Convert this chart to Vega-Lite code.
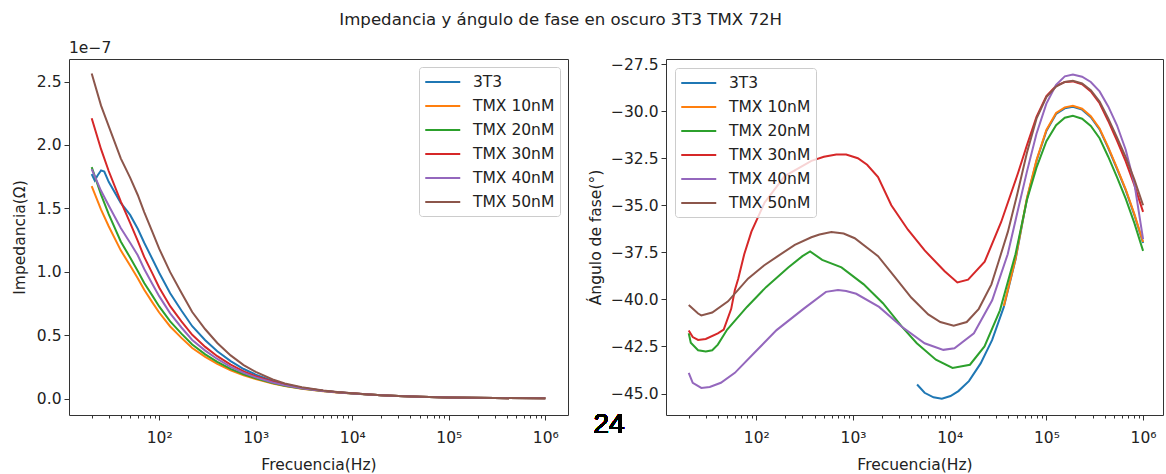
{
"$schema": "https://vega.github.io/schema/vega-lite/v6.json",
"padding": {"left": 11, "top": 11, "right": 0, "bottom": 0},
"title": {"text": "Impedancia y ángulo de fase en oscuro 3T3 TMX 72H", "fontSize": 16.6, "font": "DejaVu Sans", "fontWeight": "normal", "color": "#222", "anchor": "middle", "offset": 11.5, "dx": -27},
"config": {
  "view": {"stroke": "#333", "strokeWidth": 1},
  "axis": {"labelFont": "DejaVu Sans", "titleFont": "DejaVu Sans", "labelFontSize": 15.5, "titleFontSize": 15.5, "titleFontWeight": "normal", "labelColor": "#222", "titleColor": "#222", "tickColor": "#333", "grid": false, "domain": false, "tickSize": 5, "labelPadding": 3},
  "legend": {"labelFont": "DejaVu Sans", "labelFontSize": 15.5, "labelColor": "#222", "symbolType": "M-1,0H3", "symbolStrokeWidth": 2, "symbolSize": 306, "rowPadding": 5, "padding": 5, "strokeColor": "#cccccc", "fillColor": "rgba(255,255,255,0.8)", "cornerRadius": 3, "labelOffset": 29},
  "line": {"strokeWidth": 2}
},
"datasets": {
"imp": [
{"s":"3T3","f":20,"z":1.77},{"s":"3T3","f":21.5,"z":1.72},{"s":"3T3","f":23,"z":1.76},{"s":"3T3","f":25,"z":1.80},{"s":"3T3","f":27,"z":1.79},{"s":"3T3","f":30,"z":1.71},{"s":"3T3","f":40,"z":1.544},{"s":"3T3","f":50,"z":1.449},{"s":"3T3","f":60,"z":1.34},{"s":"3T3","f":70,"z":1.23},{"s":"3T3","f":85,"z":1.102},{"s":"3T3","f":100,"z":0.993},{"s":"3T3","f":130,"z":0.832},{"s":"3T3","f":170,"z":0.696},{"s":"3T3","f":220,"z":0.572},{"s":"3T3","f":300,"z":0.462},{"s":"3T3","f":400,"z":0.374},{"s":"3T3","f":550,"z":0.297},{"s":"3T3","f":750,"z":0.235},{"s":"3T3","f":1000,"z":0.191},{"s":"3T3","f":1500,"z":0.14},{"s":"3T3","f":2000,"z":0.114},{"s":"3T3","f":3000,"z":0.088},{"s":"3T3","f":5000,"z":0.064},{"s":"3T3","f":7000,"z":0.052},{"s":"3T3","f":10000,"z":0.043},{"s":"3T3","f":15000,"z":0.034},{"s":"3T3","f":20000,"z":0.029},{"s":"3T3","f":30000,"z":0.023},{"s":"3T3","f":50000,"z":0.017},{"s":"3T3","f":100000,"z":0.011},{"s":"3T3","f":300000,"z":0.006},{"s":"3T3","f":1000000,"z":0.004},
{"s":"TMX 10nM","f":20,"z":1.675},{"s":"TMX 10nM","f":25,"z":1.49},{"s":"TMX 10nM","f":30,"z":1.36},{"s":"TMX 10nM","f":40,"z":1.17},{"s":"TMX 10nM","f":50,"z":1.05},{"s":"TMX 10nM","f":60,"z":0.95},{"s":"TMX 10nM","f":70,"z":0.86},{"s":"TMX 10nM","f":85,"z":0.76},{"s":"TMX 10nM","f":100,"z":0.68},{"s":"TMX 10nM","f":130,"z":0.57},{"s":"TMX 10nM","f":170,"z":0.48},{"s":"TMX 10nM","f":220,"z":0.40},{"s":"TMX 10nM","f":300,"z":0.33},{"s":"TMX 10nM","f":400,"z":0.275},{"s":"TMX 10nM","f":550,"z":0.225},{"s":"TMX 10nM","f":750,"z":0.185},{"s":"TMX 10nM","f":1000,"z":0.155},{"s":"TMX 10nM","f":1500,"z":0.12},{"s":"TMX 10nM","f":2000,"z":0.10},{"s":"TMX 10nM","f":3000,"z":0.08},{"s":"TMX 10nM","f":5000,"z":0.06},{"s":"TMX 10nM","f":7000,"z":0.05},{"s":"TMX 10nM","f":10000,"z":0.042},{"s":"TMX 10nM","f":15000,"z":0.034},{"s":"TMX 10nM","f":20000,"z":0.029},{"s":"TMX 10nM","f":30000,"z":0.023},{"s":"TMX 10nM","f":50000,"z":0.017},{"s":"TMX 10nM","f":100000,"z":0.011},{"s":"TMX 10nM","f":300000,"z":0.006},{"s":"TMX 10nM","f":1000000,"z":0.004},
{"s":"TMX 20nM","f":20,"z":1.826},{"s":"TMX 20nM","f":25,"z":1.609},{"s":"TMX 20nM","f":30,"z":1.455},{"s":"TMX 20nM","f":40,"z":1.24},{"s":"TMX 20nM","f":50,"z":1.113},{"s":"TMX 20nM","f":60,"z":1.007},{"s":"TMX 20nM","f":70,"z":0.912},{"s":"TMX 20nM","f":85,"z":0.813},{"s":"TMX 20nM","f":100,"z":0.728},{"s":"TMX 20nM","f":130,"z":0.61},{"s":"TMX 20nM","f":170,"z":0.514},{"s":"TMX 20nM","f":220,"z":0.428},{"s":"TMX 20nM","f":300,"z":0.35},{"s":"TMX 20nM","f":400,"z":0.292},{"s":"TMX 20nM","f":550,"z":0.236},{"s":"TMX 20nM","f":750,"z":0.194},{"s":"TMX 20nM","f":1000,"z":0.161},{"s":"TMX 20nM","f":1500,"z":0.124},{"s":"TMX 20nM","f":2000,"z":0.103},{"s":"TMX 20nM","f":3000,"z":0.082},{"s":"TMX 20nM","f":5000,"z":0.061},{"s":"TMX 20nM","f":7000,"z":0.051},{"s":"TMX 20nM","f":10000,"z":0.042},{"s":"TMX 20nM","f":15000,"z":0.034},{"s":"TMX 20nM","f":20000,"z":0.029},{"s":"TMX 20nM","f":30000,"z":0.023},{"s":"TMX 20nM","f":50000,"z":0.017},{"s":"TMX 20nM","f":100000,"z":0.011},{"s":"TMX 20nM","f":300000,"z":0.006},{"s":"TMX 20nM","f":1000000,"z":0.004},
{"s":"TMX 30nM","f":20,"z":2.211},{"s":"TMX 30nM","f":25,"z":1.967},{"s":"TMX 30nM","f":30,"z":1.795},{"s":"TMX 30nM","f":40,"z":1.556},{"s":"TMX 30nM","f":50,"z":1.386},{"s":"TMX 30nM","f":60,"z":1.245},{"s":"TMX 30nM","f":70,"z":1.118},{"s":"TMX 30nM","f":85,"z":0.988},{"s":"TMX 30nM","f":100,"z":0.877},{"s":"TMX 30nM","f":130,"z":0.73},{"s":"TMX 30nM","f":170,"z":0.61},{"s":"TMX 30nM","f":220,"z":0.504},{"s":"TMX 30nM","f":300,"z":0.409},{"s":"TMX 30nM","f":400,"z":0.336},{"s":"TMX 30nM","f":550,"z":0.27},{"s":"TMX 30nM","f":750,"z":0.216},{"s":"TMX 30nM","f":1000,"z":0.178},{"s":"TMX 30nM","f":1500,"z":0.134},{"s":"TMX 30nM","f":2000,"z":0.11},{"s":"TMX 30nM","f":3000,"z":0.086},{"s":"TMX 30nM","f":5000,"z":0.063},{"s":"TMX 30nM","f":7000,"z":0.052},{"s":"TMX 30nM","f":10000,"z":0.043},{"s":"TMX 30nM","f":15000,"z":0.034},{"s":"TMX 30nM","f":20000,"z":0.029},{"s":"TMX 30nM","f":30000,"z":0.023},{"s":"TMX 30nM","f":50000,"z":0.017},{"s":"TMX 30nM","f":100000,"z":0.011},{"s":"TMX 30nM","f":300000,"z":0.006},{"s":"TMX 30nM","f":1000000,"z":0.004},
{"s":"TMX 40nM","f":20,"z":1.809},{"s":"TMX 40nM","f":25,"z":1.639},{"s":"TMX 40nM","f":30,"z":1.523},{"s":"TMX 40nM","f":40,"z":1.346},{"s":"TMX 40nM","f":50,"z":1.229},{"s":"TMX 40nM","f":60,"z":1.131},{"s":"TMX 40nM","f":70,"z":1.023},{"s":"TMX 40nM","f":85,"z":0.904},{"s":"TMX 40nM","f":100,"z":0.809},{"s":"TMX 40nM","f":130,"z":0.673},{"s":"TMX 40nM","f":170,"z":0.562},{"s":"TMX 40nM","f":220,"z":0.464},{"s":"TMX 40nM","f":300,"z":0.38},{"s":"TMX 40nM","f":400,"z":0.314},{"s":"TMX 40nM","f":550,"z":0.252},{"s":"TMX 40nM","f":750,"z":0.204},{"s":"TMX 40nM","f":1000,"z":0.169},{"s":"TMX 40nM","f":1500,"z":0.128},{"s":"TMX 40nM","f":2000,"z":0.106},{"s":"TMX 40nM","f":3000,"z":0.083},{"s":"TMX 40nM","f":5000,"z":0.062},{"s":"TMX 40nM","f":7000,"z":0.051},{"s":"TMX 40nM","f":10000,"z":0.042},{"s":"TMX 40nM","f":15000,"z":0.034},{"s":"TMX 40nM","f":20000,"z":0.029},{"s":"TMX 40nM","f":30000,"z":0.023},{"s":"TMX 40nM","f":50000,"z":0.017},{"s":"TMX 40nM","f":100000,"z":0.011},{"s":"TMX 40nM","f":300000,"z":0.006},{"s":"TMX 40nM","f":1000000,"z":0.004},
{"s":"TMX 50nM","f":20,"z":2.563},{"s":"TMX 50nM","f":25,"z":2.31},{"s":"TMX 50nM","f":30,"z":2.149},{"s":"TMX 50nM","f":40,"z":1.895},{"s":"TMX 50nM","f":50,"z":1.743},{"s":"TMX 50nM","f":60,"z":1.606},{"s":"TMX 50nM","f":70,"z":1.471},{"s":"TMX 50nM","f":85,"z":1.315},{"s":"TMX 50nM","f":100,"z":1.183},{"s":"TMX 50nM","f":130,"z":0.998},{"s":"TMX 50nM","f":170,"z":0.835},{"s":"TMX 50nM","f":220,"z":0.684},{"s":"TMX 50nM","f":300,"z":0.548},{"s":"TMX 50nM","f":400,"z":0.44},{"s":"TMX 50nM","f":550,"z":0.342},{"s":"TMX 50nM","f":750,"z":0.266},{"s":"TMX 50nM","f":1000,"z":0.212},{"s":"TMX 50nM","f":1500,"z":0.152},{"s":"TMX 50nM","f":2000,"z":0.121},{"s":"TMX 50nM","f":3000,"z":0.091},{"s":"TMX 50nM","f":5000,"z":0.065},{"s":"TMX 50nM","f":7000,"z":0.053},{"s":"TMX 50nM","f":10000,"z":0.043},{"s":"TMX 50nM","f":15000,"z":0.034},{"s":"TMX 50nM","f":20000,"z":0.029},{"s":"TMX 50nM","f":30000,"z":0.023},{"s":"TMX 50nM","f":50000,"z":0.017},{"s":"TMX 50nM","f":100000,"z":0.011},{"s":"TMX 50nM","f":300000,"z":0.006},{"s":"TMX 50nM","f":1000000,"z":0.004}
],
"fase": [
{"s":"3T3","f":4600,"p":-44.52},{"s":"3T3","f":5500,"p":-44.96},{"s":"3T3","f":6800,"p":-45.2},{"s":"3T3","f":8300,"p":-45.27},{"s":"3T3","f":10200,"p":-45.13},{"s":"3T3","f":12300,"p":-44.87},{"s":"3T3","f":15800,"p":-44.34},{"s":"3T3","f":20900,"p":-43.4},{"s":"3T3","f":27500,"p":-42.15},{"s":"3T3","f":36300,"p":-40.4},{"s":"3T3","f":47900,"p":-37.9},{"s":"3T3","f":63000,"p":-34.65},{"s":"3T3","f":79000,"p":-32.65},{"s":"3T3","f":100000,"p":-31.05},{"s":"3T3","f":126000,"p":-30.15},{"s":"3T3","f":155000,"p":-29.85},{"s":"3T3","f":188000,"p":-29.77},{"s":"3T3","f":234000,"p":-29.92},{"s":"3T3","f":288000,"p":-30.32},{"s":"3T3","f":355000,"p":-30.97},{"s":"3T3","f":436000,"p":-31.96},{"s":"3T3","f":537000,"p":-33.06},{"s":"3T3","f":661000,"p":-34.2},{"s":"3T3","f":813000,"p":-35.52},{"s":"3T3","f":1000000,"p":-37.0},
{"s":"TMX 10nM","f":36300,"p":-40.35},{"s":"TMX 10nM","f":47900,"p":-37.85},{"s":"TMX 10nM","f":63000,"p":-34.6},{"s":"TMX 10nM","f":79000,"p":-32.6},{"s":"TMX 10nM","f":100000,"p":-31.0},{"s":"TMX 10nM","f":126000,"p":-30.1},{"s":"TMX 10nM","f":155000,"p":-29.8},{"s":"TMX 10nM","f":188000,"p":-29.72},{"s":"TMX 10nM","f":234000,"p":-29.87},{"s":"TMX 10nM","f":288000,"p":-30.27},{"s":"TMX 10nM","f":355000,"p":-30.92},{"s":"TMX 10nM","f":436000,"p":-31.91},{"s":"TMX 10nM","f":537000,"p":-33.01},{"s":"TMX 10nM","f":661000,"p":-34.15},{"s":"TMX 10nM","f":813000,"p":-35.47},{"s":"TMX 10nM","f":1000000,"p":-36.95},
{"s":"TMX 20nM","f":20,"p":-41.8},{"s":"TMX 20nM","f":21,"p":-42.3},{"s":"TMX 20nM","f":25,"p":-42.7},{"s":"TMX 20nM","f":30,"p":-42.77},{"s":"TMX 20nM","f":35,"p":-42.7},{"s":"TMX 20nM","f":40,"p":-42.4},{"s":"TMX 20nM","f":50,"p":-41.6},{"s":"TMX 20nM","f":80,"p":-40.4},{"s":"TMX 20nM","f":126,"p":-39.35},{"s":"TMX 20nM","f":214,"p":-38.3},{"s":"TMX 20nM","f":300,"p":-37.7},{"s":"TMX 20nM","f":360,"p":-37.45},{"s":"TMX 20nM","f":480,"p":-37.9},{"s":"TMX 20nM","f":760,"p":-38.3},{"s":"TMX 20nM","f":1290,"p":-39.2},{"s":"TMX 20nM","f":2040,"p":-40.2},{"s":"TMX 20nM","f":3200,"p":-41.45},{"s":"TMX 20nM","f":4570,"p":-42.33},{"s":"TMX 20nM","f":7200,"p":-43.2},{"s":"TMX 20nM","f":10700,"p":-43.64},{"s":"TMX 20nM","f":16200,"p":-43.47},{"s":"TMX 20nM","f":22900,"p":-42.5},{"s":"TMX 20nM","f":33100,"p":-40.58},{"s":"TMX 20nM","f":47900,"p":-37.6},{"s":"TMX 20nM","f":63000,"p":-34.7},{"s":"TMX 20nM","f":79000,"p":-33.0},{"s":"TMX 20nM","f":100000,"p":-31.6},{"s":"TMX 20nM","f":126000,"p":-30.75},{"s":"TMX 20nM","f":155000,"p":-30.35},{"s":"TMX 20nM","f":188000,"p":-30.25},{"s":"TMX 20nM","f":234000,"p":-30.4},{"s":"TMX 20nM","f":288000,"p":-30.79},{"s":"TMX 20nM","f":355000,"p":-31.44},{"s":"TMX 20nM","f":436000,"p":-32.42},{"s":"TMX 20nM","f":537000,"p":-33.51},{"s":"TMX 20nM","f":661000,"p":-34.65},{"s":"TMX 20nM","f":813000,"p":-35.95},{"s":"TMX 20nM","f":1000000,"p":-37.42},
{"s":"TMX 30nM","f":20,"p":-41.65},{"s":"TMX 30nM","f":22,"p":-42.0},{"s":"TMX 30nM","f":25,"p":-42.15},{"s":"TMX 30nM","f":30,"p":-42.1},{"s":"TMX 30nM","f":40,"p":-41.8},{"s":"TMX 30nM","f":46,"p":-41.6},{"s":"TMX 30nM","f":55,"p":-40.5},{"s":"TMX 30nM","f":60,"p":-39.5},{"s":"TMX 30nM","f":65,"p":-38.9},{"s":"TMX 30nM","f":75,"p":-37.6},{"s":"TMX 30nM","f":89,"p":-36.4},{"s":"TMX 30nM","f":122,"p":-34.85},{"s":"TMX 30nM","f":197,"p":-33.45},{"s":"TMX 30nM","f":371,"p":-32.64},{"s":"TMX 30nM","f":500,"p":-32.42},{"s":"TMX 30nM","f":671,"p":-32.3},{"s":"TMX 30nM","f":850,"p":-32.3},{"s":"TMX 30nM","f":1122,"p":-32.5},{"s":"TMX 30nM","f":1400,"p":-32.85},{"s":"TMX 30nM","f":1816,"p":-33.5},{"s":"TMX 30nM","f":2490,"p":-35.0},{"s":"TMX 30nM","f":3700,"p":-36.3},{"s":"TMX 30nM","f":5510,"p":-37.4},{"s":"TMX 30nM","f":8870,"p":-38.5},{"s":"TMX 30nM","f":12000,"p":-39.1},{"s":"TMX 30nM","f":15500,"p":-38.95},{"s":"TMX 30nM","f":23000,"p":-38.0},{"s":"TMX 30nM","f":34000,"p":-35.9},{"s":"TMX 30nM","f":50800,"p":-33.3},{"s":"TMX 30nM","f":63000,"p":-31.8},{"s":"TMX 30nM","f":79000,"p":-30.3},{"s":"TMX 30nM","f":100000,"p":-29.2},{"s":"TMX 30nM","f":126000,"p":-28.65},{"s":"TMX 30nM","f":155000,"p":-28.45},{"s":"TMX 30nM","f":188000,"p":-28.42},{"s":"TMX 30nM","f":234000,"p":-28.57},{"s":"TMX 30nM","f":288000,"p":-28.95},{"s":"TMX 30nM","f":355000,"p":-29.58},{"s":"TMX 30nM","f":436000,"p":-30.52},{"s":"TMX 30nM","f":537000,"p":-31.57},{"s":"TMX 30nM","f":661000,"p":-32.67},{"s":"TMX 30nM","f":813000,"p":-33.93},{"s":"TMX 30nM","f":1000000,"p":-35.35},
{"s":"TMX 40nM","f":20,"p":-43.9},{"s":"TMX 40nM","f":22,"p":-44.43},{"s":"TMX 40nM","f":27,"p":-44.7},{"s":"TMX 40nM","f":33,"p":-44.65},{"s":"TMX 40nM","f":43,"p":-44.43},{"s":"TMX 40nM","f":60,"p":-43.9},{"s":"TMX 40nM","f":95,"p":-42.85},{"s":"TMX 40nM","f":162,"p":-41.63},{"s":"TMX 40nM","f":310,"p":-40.49},{"s":"TMX 40nM","f":525,"p":-39.6},{"s":"TMX 40nM","f":700,"p":-39.5},{"s":"TMX 40nM","f":850,"p":-39.55},{"s":"TMX 40nM","f":1080,"p":-39.7},{"s":"TMX 40nM","f":1860,"p":-40.4},{"s":"TMX 40nM","f":3200,"p":-41.45},{"s":"TMX 40nM","f":5500,"p":-42.33},{"s":"TMX 40nM","f":8600,"p":-42.68},{"s":"TMX 40nM","f":11200,"p":-42.6},{"s":"TMX 40nM","f":17800,"p":-41.8},{"s":"TMX 40nM","f":27500,"p":-40.05},{"s":"TMX 40nM","f":39800,"p":-37.6},{"s":"TMX 40nM","f":50000,"p":-35.4},{"s":"TMX 40nM","f":63000,"p":-33.2},{"s":"TMX 40nM","f":79000,"p":-31.2},{"s":"TMX 40nM","f":100000,"p":-29.6},{"s":"TMX 40nM","f":126000,"p":-28.6},{"s":"TMX 40nM","f":155000,"p":-28.15},{"s":"TMX 40nM","f":188000,"p":-28.05},{"s":"TMX 40nM","f":234000,"p":-28.17},{"s":"TMX 40nM","f":288000,"p":-28.45},{"s":"TMX 40nM","f":355000,"p":-28.95},{"s":"TMX 40nM","f":436000,"p":-29.75},{"s":"TMX 40nM","f":537000,"p":-30.75},{"s":"TMX 40nM","f":661000,"p":-32.05},{"s":"TMX 40nM","f":813000,"p":-33.85},{"s":"TMX 40nM","f":1000000,"p":-36.8},
{"s":"TMX 50nM","f":20,"p":-40.3},{"s":"TMX 50nM","f":25,"p":-40.75},{"s":"TMX 50nM","f":27,"p":-40.85},{"s":"TMX 50nM","f":35,"p":-40.7},{"s":"TMX 50nM","f":51,"p":-40.1},{"s":"TMX 50nM","f":82,"p":-38.9},{"s":"TMX 50nM","f":120,"p":-38.2},{"s":"TMX 50nM","f":167,"p":-37.7},{"s":"TMX 50nM","f":250,"p":-37.1},{"s":"TMX 50nM","f":371,"p":-36.7},{"s":"TMX 50nM","f":450,"p":-36.55},{"s":"TMX 50nM","f":597,"p":-36.42},{"s":"TMX 50nM","f":800,"p":-36.5},{"s":"TMX 50nM","f":1042,"p":-36.75},{"s":"TMX 50nM","f":1816,"p":-37.7},{"s":"TMX 50nM","f":2700,"p":-38.8},{"s":"TMX 50nM","f":4000,"p":-39.9},{"s":"TMX 50nM","f":6000,"p":-40.8},{"s":"TMX 50nM","f":8000,"p":-41.2},{"s":"TMX 50nM","f":11000,"p":-41.4},{"s":"TMX 50nM","f":15000,"p":-41.2},{"s":"TMX 50nM","f":20000,"p":-40.5},{"s":"TMX 50nM","f":27000,"p":-39.2},{"s":"TMX 50nM","f":32000,"p":-38.0},{"s":"TMX 50nM","f":40000,"p":-36.4},{"s":"TMX 50nM","f":50000,"p":-34.4},{"s":"TMX 50nM","f":63000,"p":-32.2},{"s":"TMX 50nM","f":79000,"p":-30.4},{"s":"TMX 50nM","f":100000,"p":-29.25},{"s":"TMX 50nM","f":126000,"p":-28.7},{"s":"TMX 50nM","f":155000,"p":-28.45},{"s":"TMX 50nM","f":188000,"p":-28.39},{"s":"TMX 50nM","f":234000,"p":-28.53},{"s":"TMX 50nM","f":288000,"p":-28.89},{"s":"TMX 50nM","f":355000,"p":-29.49},{"s":"TMX 50nM","f":436000,"p":-30.39},{"s":"TMX 50nM","f":537000,"p":-31.39},{"s":"TMX 50nM","f":661000,"p":-32.44},{"s":"TMX 50nM","f":813000,"p":-33.64},{"s":"TMX 50nM","f":1000000,"p":-35.0}
]
},
"hconcat": [
{
  "width": 499, "height": 356,
  "title": {"text": "1e−7", "anchor": "start", "frame": "group", "fontSize": 15.5, "font": "DejaVu Sans", "fontWeight": "normal", "color": "#222", "offset": 3},
  "data": {"name": "imp"},
  "layer": [
    {
      "mark": {"type": "line", "strokeWidth": 2},
      "encoding": {
        "x": {"field": "f", "type": "quantitative", "scale": {"type": "log", "domain": [11.64, 1718000], "nice": false},
              "axis": {"values": [100, 1000, 10000, 100000, 1000000], "labelExpr": "'10' + ['⁰','¹','²','³','⁴','⁵','⁶'][round(log(datum.value)/LN10)]", "title": "Frecuencia(Hz)", "labelPadding": 10, "titlePadding": 12}},
        "y": {"field": "z", "type": "quantitative", "scale": {"domain": [-0.1275, 2.6775], "nice": false, "zero": false},
              "axis": {"values": [0, 0.5, 1, 1.5, 2, 2.5], "format": ".1f", "title": "Impedancia(Ω)", "titlePadding": 9}},
        "color": {"field": "s", "type": "nominal",
                  "scale": {"domain": ["3T3", "TMX 10nM", "TMX 20nM", "TMX 30nM", "TMX 40nM", "TMX 50nM"], "range": ["#1f77b4", "#ff7f0e", "#2ca02c", "#d62728", "#9467bd", "#8c564b"]},
                  "legend": {"orient": "top-right", "offset": 8, "title": null}}
      }
    },
    {
      "mark": {"type": "line", "opacity": 0},
      "encoding": {
        "x": {"field": "f", "type": "quantitative", "axis": {"orient": "bottom", "values": [20,30,40,50,60,70,80,90,200,300,400,500,600,700,800,900,2000,3000,4000,5000,6000,7000,8000,9000,20000,30000,40000,50000,60000,70000,80000,90000,200000,300000,400000,500000,600000,700000,800000,900000], "labels": false, "tickSize": 3, "title": null}},
        "y": {"field": "z", "type": "quantitative"},
        "detail": {"field": "s"}
      }
    }
  ],
  "resolve": {"axis": {"x": "independent"}}
},
{
  "width": 497, "height": 356,
  "data": {"name": "fase"},
  "layer": [
    {
      "mark": {"type": "line", "strokeWidth": 2},
      "encoding": {
        "x": {"field": "f", "type": "quantitative", "scale": {"type": "log", "domain": [11.64, 1607000], "nice": false},
              "axis": {"values": [100, 1000, 10000, 100000, 1000000], "labelExpr": "'10' + ['⁰','¹','²','³','⁴','⁵','⁶'][round(log(datum.value)/LN10)]", "title": "Frecuencia(Hz)", "labelPadding": 10, "titlePadding": 12}},
        "y": {"field": "p", "type": "quantitative", "scale": {"domain": [-46.14, -27.23], "nice": false, "zero": false},
              "axis": {"values": [-45, -42.5, -40, -37.5, -35, -32.5, -30, -27.5], "format": ".1f", "title": "Ángulo de fase(°)", "titlePadding": 7}},
        "color": {"field": "s", "type": "nominal",
                  "scale": {"domain": ["3T3", "TMX 10nM", "TMX 20nM", "TMX 30nM", "TMX 40nM", "TMX 50nM"], "range": ["#1f77b4", "#ff7f0e", "#2ca02c", "#d62728", "#9467bd", "#8c564b"]},
                  "legend": {"orient": "top-left", "offset": 9, "title": null}}
      }
    },
    {
      "mark": {"type": "line", "opacity": 0},
      "encoding": {
        "x": {"field": "f", "type": "quantitative", "axis": {"orient": "bottom", "values": [20,30,40,50,60,70,80,90,200,300,400,500,600,700,800,900,2000,3000,4000,5000,6000,7000,8000,9000,20000,30000,40000,50000,60000,70000,80000,90000,200000,300000,400000,500000,600000,700000,800000,900000], "labels": false, "tickSize": 3, "title": null}},
        "y": {"field": "p", "type": "quantitative"},
        "detail": {"field": "s"}
      }
    },
    {
      "mark": {"type": "text", "text": "24", "font": "Liberation Sans", "fontSize": 28, "fill": "#000", "align": "center", "baseline": "alphabetic"},
      "encoding": {
        "x": {"datum": 3, "type": "quantitative", "axis": null},
        "y": {"datum": -47.07, "type": "quantitative"}
      }
    }
  ],
  "resolve": {"axis": {"x": "independent"}}
}
],
"spacing": 98,
"bounds": "flush",
"resolve": {"scale": {"color": "independent"}, "legend": {"color": "independent"}}
}
